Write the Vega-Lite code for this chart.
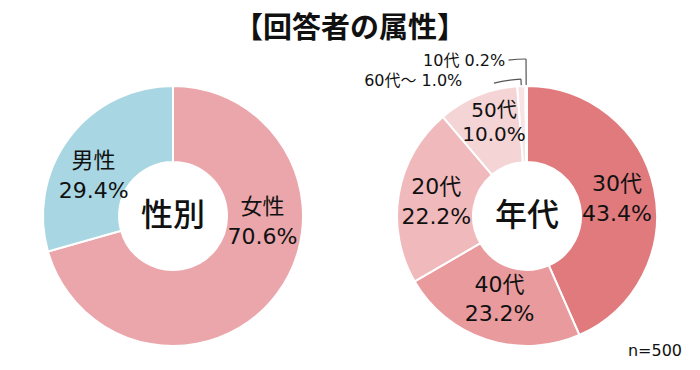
{
  "$schema": "https://vega.github.io/schema/vega-lite/v6.json",
  "background": "white",
  "padding": {"left": 3, "right": 3, "top": 15, "bottom": 0},
  "bounds": "flush",
  "title": {"text": "【回答者の属性】", "font": "Noto Sans CJK JP", "fontSize": 29, "fontWeight": "bold", "color": "#111111", "anchor": "middle", "offset": 9},
  "spacing": 14,
  "resolve": {"scale": {"color": "independent", "theta": "independent"}},
  "config": {"view": {"stroke": null}},
  "hconcat": [
    {
      "width": 340,
      "height": 280,
      "data": {"values": [{"性別": "女性", "割合": 70.6}, {"性別": "男性", "割合": 29.4}]},
      "transform": [{"calculate": "datum['性別'] + '\\n' + format(datum['割合'], '.1f') + '%'", "as": "ラベル"}],
      "encoding": {
        "theta": {"field": "割合", "type": "quantitative", "stack": true},
        "order": {"field": "割合", "type": "quantitative", "sort": "descending"}
      },
      "layer": [
        {
          "mark": {"type": "arc", "outerRadius": 130, "innerRadius": 54, "stroke": "white", "strokeWidth": 2},
          "encoding": {"color": {"field": "性別", "type": "nominal", "scale": {"domain": ["女性", "男性"], "range": ["#EAA6AA", "#A8D6E2"]}, "legend": null}}
        },
        {
          "mark": {"type": "text", "radius": 92, "lineBreak": "\n", "lineHeight": 30, "fontSize": 22, "font": "DejaVu Sans, Noto Sans CJK JP", "dx": -6, "dy": 0},
          "encoding": {
            "detail": {"field": "性別", "type": "nominal"},
            "color": {"value": "#111111"},
            "text": {"condition": {"test": "datum['性別'] == '男性'", "field": "ラベル"}, "value": ""}
          }
        },
        {
          "mark": {"type": "text", "radius": 92, "lineBreak": "\n", "lineHeight": 30, "fontSize": 22, "font": "DejaVu Sans, Noto Sans CJK JP", "dx": 16, "dy": -64},
          "encoding": {
            "detail": {"field": "性別", "type": "nominal"},
            "color": {"value": "#111111"},
            "text": {"condition": {"test": "datum['性別'] == '女性'", "field": "ラベル"}, "value": ""}
          }
        },
        {
          "data": {"values": [{"中心": "性別"}]},
          "transform": [],
          "mark": {"type": "text", "fontSize": 32, "font": "Noto Sans CJK JP", "fontWeight": 500, "color": "#111111"},
          "encoding": {"text": {"field": "中心", "type": "nominal"}, "theta": null, "order": null}
        }
      ]
    },
    {
      "width": 340,
      "height": 280,
      "title": {"text": "n=500", "orient": "bottom", "anchor": "end", "offset": -13, "dx": -15, "fontSize": 16, "fontWeight": "normal", "font": "DejaVu Sans", "color": "#111111"},
      "data": {"values": [
        {"年代": "30代", "割合": 43.4},
        {"年代": "40代", "割合": 23.2},
        {"年代": "20代", "割合": 22.2},
        {"年代": "50代", "割合": 10.0},
        {"年代": "60代～", "割合": 1.0},
        {"年代": "10代", "割合": 0.2}
      ]},
      "transform": [
        {"calculate": "datum['年代'] + '\\n' + format(datum['割合'], '.1f') + '%'", "as": "ラベル"},
        {"calculate": "datum['年代'] + ' ' + format(datum['割合'], '.1f') + '%'", "as": "ラベル1"}
      ],
      "encoding": {
        "theta": {"field": "割合", "type": "quantitative", "stack": true},
        "order": {"field": "割合", "type": "quantitative", "sort": "descending"}
      },
      "layer": [
        {
          "mark": {"type": "arc", "outerRadius": 130, "innerRadius": 54, "stroke": "white", "strokeWidth": 2},
          "encoding": {"color": {"field": "年代", "type": "nominal", "scale": {"domain": ["30代", "40代", "20代", "50代", "60代～", "10代"], "range": ["#E07A7D", "#E89A9D", "#F0B9BB", "#F5D4D5", "#F8E2E3", "#FAEDED"]}, "legend": null}}
        },
        {
          "transform": [
            {"window": [{"op": "sum", "field": "割合", "as": "累計"}], "sort": [{"field": "割合", "order": "descending"}], "frame": [null, 0]},
            {"filter": "datum['年代'] == '10代' || datum['年代'] == '60代～'"},
            {"calculate": "2 * PI * (datum['累計'] - datum['割合'] / 2) / 100", "as": "中角"},
            {"calculate": "datum['年代'] == '10代' ? datum['中角'] - 0.112 : datum['中角'] - 0.2", "as": "端角"},
            {"calculate": "datum['年代'] == '10代' ? 157 : 137", "as": "半径"}
          ],
          "layer": [
            {
              "mark": {"type": "arc", "radius2": 131, "stroke": "#555555", "strokeWidth": 1.2, "fillOpacity": 0},
              "encoding": {
                "theta": {"field": "中角", "type": "quantitative", "scale": null, "stack": null},
                "theta2": {"field": "中角"},
                "radius": {"field": "半径", "type": "quantitative", "scale": null},
                "order": null
              }
            },
            {
              "mark": {"type": "arc", "stroke": "#555555", "strokeWidth": 1.2, "fillOpacity": 0},
              "encoding": {
                "theta": {"field": "端角", "type": "quantitative", "scale": null, "stack": null},
                "theta2": {"field": "中角"},
                "radius": {"field": "半径", "type": "quantitative", "scale": null},
                "radius2": {"field": "半径"},
                "order": null
              }
            }
          ]
        },
        {
          "mark": {"type": "text", "radius": 92, "lineBreak": "\n", "lineHeight": 30, "fontSize": 22, "font": "DejaVu Sans, Noto Sans CJK JP", "dx": 0, "dy": -13},
          "encoding": {
            "detail": {"field": "年代", "type": "nominal"},
            "color": {"value": "#111111"},
            "text": {"condition": {"test": "datum['年代'] == '30代' || datum['年代'] == '20代'", "field": "ラベル"}, "value": ""}
          }
        },
        {
          "mark": {"type": "text", "radius": 92, "lineBreak": "\n", "lineHeight": 29, "fontSize": 22, "font": "DejaVu Sans, Noto Sans CJK JP", "dx": 1, "dy": -18},
          "encoding": {
            "detail": {"field": "年代", "type": "nominal"},
            "color": {"value": "#111111"},
            "text": {"condition": {"test": "datum['年代'] == '40代'", "field": "ラベル"}, "value": ""}
          }
        },
        {
          "mark": {"type": "text", "radius": 92, "lineBreak": "\n", "lineHeight": 24, "fontSize": 20, "font": "DejaVu Sans, Noto Sans CJK JP", "dx": 2, "dy": -20},
          "encoding": {
            "detail": {"field": "年代", "type": "nominal"},
            "color": {"value": "#111111"},
            "text": {"condition": {"test": "datum['年代'] == '50代'", "field": "ラベル"}, "value": ""}
          }
        },
        {
          "mark": {"type": "text", "radius": 130, "align": "right", "baseline": "middle", "fontSize": 16, "font": "DejaVu Sans, Noto Sans CJK JP", "dx": -59, "dy": -5},
          "encoding": {
            "detail": {"field": "年代", "type": "nominal"},
            "color": {"value": "#111111"},
            "text": {"condition": {"test": "datum['年代'] == '60代～'", "field": "ラベル1"}, "value": ""}
          }
        },
        {
          "mark": {"type": "text", "radius": 130, "align": "right", "baseline": "middle", "fontSize": 16, "font": "DejaVu Sans, Noto Sans CJK JP", "dx": -21, "dy": -25},
          "encoding": {
            "detail": {"field": "年代", "type": "nominal"},
            "color": {"value": "#111111"},
            "text": {"condition": {"test": "datum['年代'] == '10代'", "field": "ラベル1"}, "value": ""}
          }
        },
        {
          "data": {"values": [{"中心": "年代"}]},
          "transform": [],
          "mark": {"type": "text", "fontSize": 32, "font": "Noto Sans CJK JP", "fontWeight": 500, "color": "#111111"},
          "encoding": {"text": {"field": "中心", "type": "nominal"}, "theta": null, "order": null}
        }
      ]
    }
  ]
}
